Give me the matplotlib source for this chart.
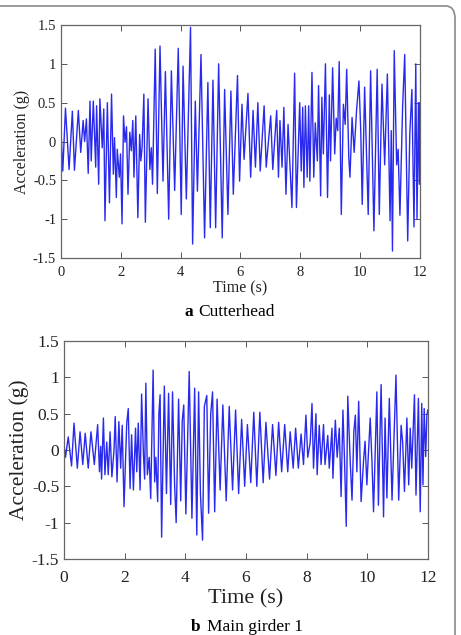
import matplotlib
matplotlib.use("Agg")
import matplotlib.pyplot as plt
from matplotlib.patches import FancyBboxPatch

# (a) Cutterhead: extremes
top_t = [0.00, 0.06, 0.15, 0.27, 0.38, 0.45, 0.58, 0.66, 0.74, 0.79,
         0.85, 0.91, 0.97, 1.01, 1.08, 1.16, 1.19, 1.26, 1.30, 1.38,
         1.43, 1.47, 1.55, 1.62, 1.69, 1.75, 1.79, 1.85, 1.88, 1.95,
         1.99, 2.04, 2.09, 2.14, 2.19, 2.24, 2.30, 2.35, 2.40, 2.44,
         2.50, 2.57, 2.63, 2.67, 2.71, 2.77, 2.82, 2.91, 2.97, 3.02,
         3.06, 3.15, 3.22, 3.31, 3.41, 3.49, 3.60, 3.69, 3.80, 3.92,
         4.02, 4.08, 4.19, 4.33, 4.40, 4.49, 4.56, 4.68, 4.80, 4.91,
         4.99, 5.08, 5.17, 5.27, 5.39, 5.47, 5.58, 5.68, 5.76, 5.90,
         5.97, 6.05, 6.12, 6.25, 6.34, 6.42, 6.50, 6.58, 6.66, 6.79,
         6.86, 7.01, 7.08, 7.21, 7.27, 7.32, 7.39, 7.45, 7.52, 7.59,
         7.72, 7.81, 7.87, 7.98, 8.03, 8.08, 8.12, 8.17, 8.23, 8.28,
         8.32, 8.39, 8.45, 8.50, 8.57, 8.61, 8.68, 8.72, 8.77, 8.84,
         8.91, 8.97, 9.01, 9.08, 9.15, 9.20, 9.25, 9.30, 9.37, 9.44,
         9.50, 9.55, 9.62, 9.66, 9.73, 9.80, 9.88, 9.96, 10.02, 10.07,
         10.15, 10.27, 10.35, 10.46, 10.57, 10.64, 10.73, 10.82, 10.91, 11.00,
         11.04, 11.08, 11.14, 11.22, 11.27, 11.33, 11.42, 11.49, 11.59, 11.66,
         11.73, 11.80, 11.86, 11.90, 11.95, 11.98, 12.00]
top_acc = [0.14, -0.38, 0.43, -0.36, 0.39, -0.37, 0.40, -0.14, 0.27, 0.00,
           0.29, -0.41, 0.52, -0.25, 0.52, -0.33, 0.46, -0.55, 0.55, -0.08,
           0.42, -1.02, 0.50, -0.79, 0.61, -0.42, 0.05, -0.72, -0.10, -0.46,
           -0.16, -1.06, 0.33, -0.01, 0.19, -0.68, 0.12, -0.12, 0.27, -0.46,
           0.33, -0.98, 0.09, -0.25, -0.08, 0.61, -1.04, 0.55, -0.36, -0.08,
           -0.55, 1.19, -0.67, 1.23, -0.51, 0.90, -1.00, 0.91, -0.63, 1.20,
           -0.94, 0.97, -0.74, 1.47, -1.32, 0.52, -0.64, 1.12, -1.24, 0.76,
           -1.11, 0.79, -1.11, 1.00, -1.24, 0.67, -0.94, 0.65, -0.68, 0.85,
           -0.51, 0.48, -0.23, 0.62, -0.46, 0.40, -0.33, 0.50, -0.38, 0.46,
           -0.33, 0.33, -0.36, 0.40, -0.46, 0.27, -0.33, 0.44, -0.68, 0.22,
           -0.85, 0.88, -0.85, 0.50, -0.38, 0.44, -0.59, 0.46, -0.46, 0.46,
           -0.51, 0.89, -0.46, 0.24, -0.25, 0.72, -0.70, 0.57, -0.16, 1.00,
           -0.72, 0.60, -0.25, 0.95, -0.16, 0.30, 0.14, 1.03, -0.94, 0.48,
           0.22, 0.93, -0.20, -0.46, 0.31, -0.14, 0.40, 0.78, 0.14, -0.81,
           0.70, -0.94, 0.91, -1.15, 0.93, -0.94, 0.74, -0.30, 0.87, -1.02,
           0.14, -1.41, 1.17, -0.30, -0.10, -0.95, 0.45, 1.12, -1.28, 0.10,
           0.67, -1.10, 1.00, -1.00, 0.50, -0.55, 0.50]

# (b) Main girder 1
bot_t = [0.00, 0.05, 0.14, 0.25, 0.33, 0.44, 0.53, 0.62, 0.70, 0.80,
         0.89, 1.00, 1.11, 1.17, 1.21, 1.24, 1.30, 1.35, 1.41, 1.46,
         1.52, 1.58, 1.65, 1.69, 1.75, 1.81, 1.87, 1.92, 1.98, 2.07,
         2.12, 2.18, 2.23, 2.29, 2.36, 2.40, 2.45, 2.51, 2.56, 2.62,
         2.66, 2.70, 2.75, 2.81, 2.86, 2.94, 2.99, 3.03, 3.09, 3.13,
         3.17, 3.22, 3.31, 3.38, 3.45, 3.52, 3.58, 3.65, 3.70, 3.78,
         3.85, 3.90, 3.95, 4.02, 4.13, 4.22, 4.31, 4.38, 4.44, 4.50,
         4.57, 4.63, 4.71, 4.77, 4.84, 4.90, 4.97, 5.05, 5.15, 5.24,
         5.35, 5.45, 5.56, 5.66, 5.76, 5.86, 5.96, 6.05, 6.16, 6.26,
         6.36, 6.46, 6.57, 6.66, 6.78, 6.88, 6.99, 7.08, 7.18, 7.28,
         7.38, 7.46, 7.56, 7.64, 7.73, 7.82, 7.90, 7.98, 8.04, 8.12,
         8.18, 8.23, 8.31, 8.35, 8.42, 8.48, 8.56, 8.61, 8.70, 8.75,
         8.84, 8.87, 8.95, 9.01, 9.08, 9.14, 9.20, 9.25, 9.31, 9.36,
         9.44, 9.50, 9.56, 9.61, 9.66, 9.72, 9.80, 9.88, 9.93, 9.99,
         10.10, 10.16, 10.21, 10.32, 10.37, 10.46, 10.54, 10.59, 10.65, 10.73,
         10.82, 10.95, 11.04, 11.12, 11.17, 11.23, 11.31, 11.37, 11.42, 11.47,
         11.56, 11.61, 11.69, 11.75, 11.80, 11.84, 11.88, 11.93, 11.97, 12.00]
bot_acc = [0.08, -0.10, 0.18, -0.22, 0.37, -0.25, 0.25, -0.20, 0.23, -0.25,
           0.25, -0.20, 0.35, -0.30, 0.05, -0.40, 0.44, -0.34, 0.11, -0.34,
           0.25, -0.37, 0.00, 0.46, -0.44, 0.39, -0.25, 0.34, -0.78, 0.37,
           0.57, -0.53, 0.21, -0.55, 0.30, -0.30, 0.37, -0.55, 0.77, -0.05,
           -0.40, 0.92, -0.34, -0.10, -0.67, 1.10, -0.44, -0.10, -0.71, 0.50,
           0.76, -1.20, 0.88, -0.60, 0.78, -0.75, 0.80, -0.50, -1.00, 0.70,
           -0.70, 0.40, 0.62, -0.88, 1.08, -0.94, 0.85, -1.17, 0.80, -0.60,
           -1.24, 0.60, 0.75, -0.87, 0.50, 0.80, -0.85, 0.70, -0.55, 0.62,
           -0.70, 0.60, -0.55, 0.55, -0.60, 0.42, -0.50, 0.35, -0.45, 0.52,
           -0.50, 0.52, -0.45, 0.38, -0.40, 0.35, -0.35, 0.38, -0.30, 0.35,
           -0.30, 0.25, -0.25, 0.30, -0.25, 0.22, -0.20, 0.48, -0.10, 0.10,
           0.64, -0.25, 0.50, -0.34, 0.34, -0.20, 0.35, -0.20, 0.20, -0.25,
           0.30, -0.39, 0.41, -0.10, 0.30, -0.64, 0.55, -0.10, -1.05, 0.74,
           -0.15, -0.69, 0.25, 0.48, -0.30, 0.67, -0.71, -0.15, 0.12, -0.48,
           0.44, -0.18, -0.85, 0.80, -0.76, 0.90, -0.92, 0.44, -0.66, 0.71,
           -0.69, 1.03, -0.69, 0.34, 0.11, -0.57, 0.44, -0.48, 0.30, -0.25,
           0.76, -0.62, 0.71, -0.85, 0.64, -0.48, 0.57, -0.09, 0.48, 0.55]

y_ticks = [-1.5, -1, -0.5, 0, 0.5, 1, 1.5]
y_labels = ["-1.5", "-1", "-0.5", "0", "0.5", "1", "1.5"]
x_ticks = [0, 2, 4, 6, 8, 10, 12]

plt.rcParams["font.family"] = ["Liberation Serif", "DejaVu Serif"]

fig = plt.figure(figsize=(4.61, 6.35), dpi=100)

# grey rounded frame around the figure
frame = FancyBboxPatch((-0.05, -0.05), 1.037, 1.0406, transform=fig.transFigure,
                       boxstyle="round,pad=0,rounding_size=0.02",
                       facecolor="none", edgecolor="#8a8a8a", linewidth=1.2)
fig.patches.append(frame)


def style_axes(ax, tick_size, label_size, xpad):
    ax.set_xlim(0, 12)
    ax.set_ylim(-1.5, 1.5)
    ax.set_xticks(x_ticks)
    ax.set_yticks(y_ticks)
    ax.set_yticklabels(y_labels)
    ax.tick_params(direction="in", top=True, right=True, length=4, width=0.7,
                   labelsize=tick_size, colors="#555555", labelcolor="#222222")
    ax.tick_params(axis="x", pad=xpad)
    for s in ax.spines.values():
        s.set_color("#666666")
        s.set_linewidth(0.9)
    ax.set_ylabel("Acceleration (g)", fontsize=label_size, color="#222222", labelpad=2)


# Chart a
ax1 = fig.add_axes([0.1323, 0.5937, 0.7787, 0.3669])
ax1.plot(top_t, top_acc, color="#2a2aee", linewidth=1.0)
style_axes(ax1, 10.5, 11.5, 6)
ax1.set_xlabel("Time (s)", fontsize=11.5, color="#222222", labelpad=1)
fig.text(0.401, 0.5087, "a", fontsize=12.5, fontweight="bold", va="center", ha="left")
fig.text(0.430, 0.5087, "Cutterhead", fontsize=12.5, va="center", ha="left")

# Chart b
ax2 = fig.add_axes([0.1388, 0.1197, 0.7892, 0.3433])
ax2.plot(bot_t, bot_acc, color="#2a2aee", linewidth=1.0)
style_axes(ax2, 12.5, 15.5, 8)
ax2.set_xlabel("Time (s)", fontsize=16, color="#222222", labelpad=2)
fig.text(0.414, 0.0126, "b", fontsize=12.5, fontweight="bold", va="center", ha="left")
fig.text(0.450, 0.0126, "Main girder 1", fontsize=12.5, va="center", ha="left")

plt.savefig("out.png", dpi=100)
plt.close()
